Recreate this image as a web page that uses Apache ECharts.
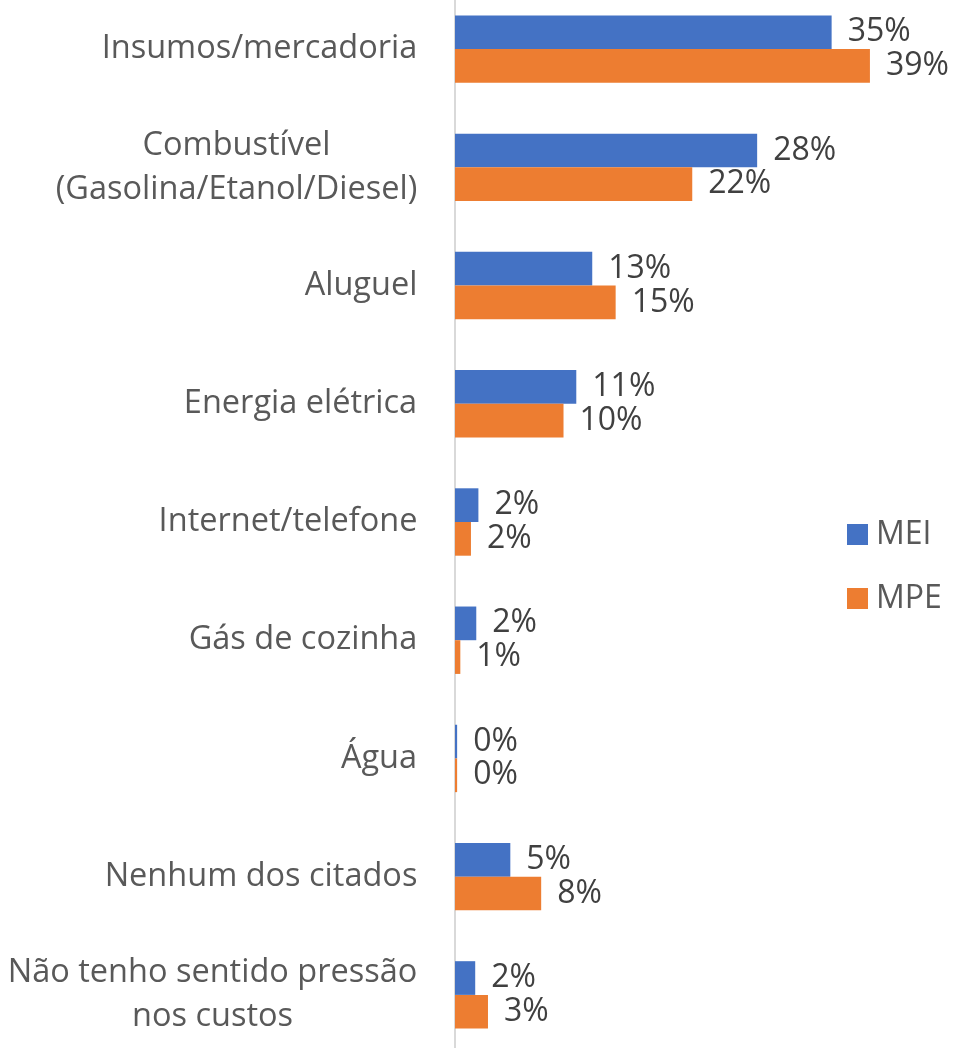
<!DOCTYPE html>
<html>
<head>
<meta charset="utf-8">
<script src="https://cdn.jsdelivr.net/npm/echarts@6/dist/echarts.min.js"></script>
<style>
html,body{margin:0;padding:0;background:#fff;width:955px;height:1048px;overflow:hidden;position:relative;}
#chart{position:absolute;left:0;top:-10px;width:955px;height:1064px;}
</style>
</head>
<body>
<div id="chart"></div>
<script>
const categories = [
  "Insumos/mercadoria",
  "Combustível\n(Gasolina/Etanol/Diesel)",
  "Aluguel",
  "Energia elétrica",
  "Internet/telefone",
  "Gás de cozinha",
  "Água",
  "Nenhum dos citados",
  "Não tenho sentido pressão\nnos custos"
];
const seriesNames = ["MEI", "MPE"];
const meiValues = [35.4, 28.4, 12.9, 11.4, 2.2, 2.0, 0.2, 5.2, 1.9];
const mpeValues = [39.0, 22.3, 15.1, 10.2, 1.5, 0.5, 0.2, 8.1, 3.1];
const colors = ["#4472C4", "#ED7D31"];

const FONT = "Open Sans";
const CAT_SIZE = 32.5;
const chart = echarts.init(document.getElementById('chart'), null, {renderer: 'canvas'});

// multi-line category labels: lines centred within a right-anchored block
const ctx = document.createElement('canvas').getContext('2d');
ctx.font = CAT_SIZE + 'px "' + FONT + '"';
const rich = {};
categories.forEach((c, i) => {
  const lines = c.split('\n');
  const w = Math.max(...lines.map(l => ctx.measureText(l).width));
  rich['l' + i] = {
    width: Math.ceil(w) + 1,
    align: 'center',
    fontSize: CAT_SIZE,
    lineHeight: 44,
    fontFamily: FONT,
    color: '#595959'
  };
});

const labelCfg = {
  show: true,
  position: 'right',
  distance: 16,
  fontSize: 32,
  fontFamily: FONT,
  color: '#404040',
  formatter: p => Math.round(p.value) + '%'
};

chart.setOption({
  animation: false,
  backgroundColor: '#ffffff',
  grid: {left: 455, right: 10.6, top: 0, bottom: 0, containLabel: false},
  legend: {
    orient: 'vertical',
    left: 842,
    top: 523.5,
    icon: 'rect',
    itemWidth: 21,
    itemHeight: 21,
    itemGap: 32,
    data: seriesNames,
    textStyle: {fontSize: 32, lineHeight: 32, fontFamily: FONT, color: '#595959', padding: [0, 0, 0, 3]}
  },
  xAxis: {
    type: 'value',
    min: 0,
    max: 46,
    show: false,
    splitLine: {show: false}
  },
  yAxis: {
    type: 'category',
    inverse: true,
    data: categories,
    axisLine: {show: true, lineStyle: {color: '#d9d9d9', width: 2}},
    axisTick: {show: false},
    axisLabel: {
      margin: 37,
      fontSize: CAT_SIZE,
      lineHeight: 44,
      fontFamily: FONT,
      color: '#595959',
      align: 'right',
      rich: rich,
      formatter: (value, index) => {
        const i = categories.indexOf(value);
        return value.split('\n').map(l => '{l' + i + '|' + l + '}').join('\n');
      }
    }
  },
  series: [
    {
      name: seriesNames[0],
      type: 'bar',
      data: meiValues,
      barWidth: 33.7,
      barGap: '0%',
      itemStyle: {color: colors[0]},
      label: labelCfg
    },
    {
      name: seriesNames[1],
      type: 'bar',
      data: mpeValues,
      barWidth: 33.7,
      barGap: '0%',
      itemStyle: {color: colors[1]},
      label: labelCfg
    }
  ]
});
</script>
</body>
</html>
